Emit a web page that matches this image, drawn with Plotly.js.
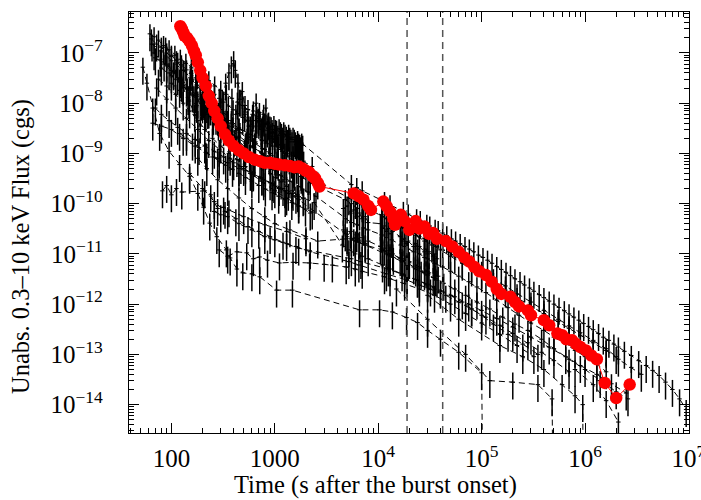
<!DOCTYPE html>
<html><head><meta charset="utf-8">
<script src="https://cdn.plot.ly/plotly-3.0.1.min.js"></script>
<style>html,body{margin:0;padding:0;background:#fff}#plot{width:701px;height:500px}</style>
</head><body><div id="plot"></div>
<script>
// ---- GRB under study (red) ----
const grbTime = [122,126,130,134,142,150,158,165,172,180,190,200,215,230,245,260,280,300,330,360,400,450,500,560,640,720,800,900,1000,1100,1250,1400,1550,1700,1850,2000,2150,2300,2450,2600,2700,
 5.8e3,6.5e3,7.2e3,8e3,8.5e3,1.12e4,1.2e4,1.3e4,1.4e4,1.45e4,1.65e4,1.8e4,2e4,2.3e4,2.5e4,2.8e4,3.1e4,3.4e4,3.7e4,4.5e4,5.2e4,6e4,6.8e4,7.6e4,8.5e4,9.5e4,1.1e5,1.25e5,1.4e5,1.55e5,1.9e5,2.1e5,2.3e5,2.8e5,3e5,4e5,4.5e5,5.4e5,6e5,6.6e5,7.5e5,8.2e5,9e5,1.02e6,1.15e6,1.3e6,1.55e6,2e6,2.7e6];
const grbFlux = [3.4e-7,3.0e-7,2.6e-7,2.2e-7,2.0e-7,1.7e-7,1.4e-7,1.1e-7,9e-8,6.5e-8,4.5e-8,3.2e-8,2.2e-8,1.4e-8,1e-8,7e-9,5e-9,3.5e-9,2.4e-9,1.8e-9,1.4e-9,1.15e-9,1e-9,8.5e-10,7.5e-10,7e-10,6.5e-10,6.5e-10,6.2e-10,6e-10,5.8e-10,5.6e-10,5.3e-10,5.5e-10,5e-10,4.5e-10,4.2e-10,3.6e-10,3.2e-10,2.6e-10,2.2e-10,
 1.6e-10,1.4e-10,1.2e-10,9e-11,7.5e-11,1.1e-10,9e-11,7e-11,5e-11,3.8e-11,6e-11,4.5e-11,3e-11,4.5e-11,3.2e-11,3.5e-11,2.5e-11,2.6e-11,2e-11,1.8e-11,1.4e-11,1.1e-11,8.5e-12,7e-12,5.5e-12,4.5e-12,3.8e-12,2.8e-12,2e-12,1.6e-12,1.4e-12,1.1e-12,9e-13,7.5e-13,6e-13,4.8e-13,3.8e-13,2.6e-13,2.4e-13,2e-13,1.9e-13,1.6e-13,1.4e-13,1.2e-13,9.5e-14,8e-14,2.7e-14,1.35e-14,2.5e-14];

// ---- comparison sample (black) ----
const lcA_t = [62,68,75,84,95,108,122,138,156,178,202,230,262,300,340,385,435,490,550,610,670,720,770,820,870,920,980,1040,1100,1160,1220,1290,1360,1430,1500,1580,1660,1740,1820,
 5.5e3,6.2e3,7.0e3,1.15e4,1.3e4,1.75e4,1.95e4,2.35e4,2.55e4,2.95e4,3.15e4,3.55e4,3.8e4,4.2e4,4.6e4,5.1e4,5.6e4,6.2e4,6.9e4,7.6e4,8.4e4,9.3e4,1.03e5,1.14e5,1.26e5,1.4e5,1.55e5,1.72e5,1.9e5,2.1e5,2.35e5,2.6e5,2.9e5,3.2e5,3.6e5,4e5,4.5e5,5e5,5.6e5,6.3e5,7e5,7.8e5,8.7e5,9.7e5,1.08e6,1.2e6,1.35e6,1.5e6,1.7e6,1.9e6,2.1e6,2.4e6,2.8e6,3.3e6,3.9e6,4.5e6,5.2e6,6e6,7e6,8.2e6,9.5e6];
const lcA_f = [2.4e-7,2.1e-7,1.8e-7,1.4e-7,1.15e-7,9e-8,7.5e-8,6.2e-8,5.2e-8,4.2e-8,3.4e-8,2.8e-8,2.2e-8,1.8e-8,1.5e-8,1.25e-8,1.05e-8,9e-9,7.5e-9,6e-9,5.5e-9,4.4e-9,4.8e-9,3.8e-9,4.2e-9,3.4e-9,3.6e-9,2.9e-9,3.1e-9,2.5e-9,2.7e-9,2.2e-9,2.4e-9,1.9e-9,2.1e-9,1.7e-9,1.8e-9,1.5e-9,1.6e-9,
 2.4e-10,2.1e-10,1.8e-10,1.1e-10,9.5e-11,7e-11,6.2e-11,5e-11,4.6e-11,3.9e-11,3.6e-11,3.1e-11,2.9e-11,2.6e-11,2.3e-11,2e-11,1.8e-11,1.6e-11,1.4e-11,1.25e-11,1.1e-11,9.5e-12,8.5e-12,7.5e-12,6.5e-12,5.6e-12,4.9e-12,4.3e-12,3.7e-12,3.2e-12,2.8e-12,2.4e-12,2.1e-12,1.8e-12,1.55e-12,1.35e-12,1.15e-12,1e-12,8.6e-13,7.4e-13,6.4e-13,5.5e-13,4.8e-13,4.1e-13,3.6e-13,3.1e-13,2.6e-13,2.2e-13,1.9e-13,1.6e-13,1.4e-13,1.15e-13,9.5e-14,7.5e-14,6e-14,4.8e-14,3.8e-14,2.8e-14,2e-14,1.3e-14,8e-15];

const lcB_t = [115,130,148,168,190,215,240,262,285,310,335,360,380,400,415,440,470,510,560,610,660,710,760,820,880,940,1000,1070,1150,1250,1380,1520,1680];
const lcB_f = [3.2e-8,2e-8,1.1e-8,6e-9,3.5e-9,6e-9,1.1e-8,8e-9,6.5e-9,1.2e-8,2.5e-8,4e-8,5.5e-8,7e-8,4.5e-8,2.5e-8,1.2e-8,6e-9,3.5e-9,2.8e-9,4.5e-9,6.5e-9,3.5e-9,1.6e-9,2.2e-9,3e-9,2.2e-9,1.5e-9,1.2e-9,1e-9,8.5e-10,7e-10,5.5e-10];

const lcC_t = [88,100,115,132,152,175,200,230,265,300,340,380,420,455,485,515,545,580,620,660,700,740,780,820,860,900,950,1000,1080,1180,1300,1450,1620,1800,2000,
 5.2e3,6e3,7e3,1.1e4,1.25e4,1.7e4,1.9e4,2.3e4,2.8e4,3.3e4,4e4,5e4,6.5e4,8e4,1e5,1.3e5,1.7e5,2.2e5,3e5,4e5,5.5e5,7e5,9e5,1.2e6,1.6e6,2.1e6,2.8e6,3.5e6];
const lcC_f = [1.3e-7,9e-8,6.5e-8,4.5e-8,3.2e-8,2.3e-8,1.6e-8,1.1e-8,8e-9,6e-9,4.8e-9,4e-9,6e-9,1.2e-8,1.7e-8,9e-9,4.5e-9,3.5e-9,7e-9,1e-8,5e-9,3e-9,6e-9,8e-9,4e-9,2.5e-9,2e-9,1.7e-9,1.4e-9,1.1e-9,9e-10,7e-10,5.5e-10,4.5e-10,3.8e-10,
 1.3e-10,1.1e-10,9.5e-11,5.5e-11,4.8e-11,3.3e-11,2.9e-11,2.3e-11,1.8e-11,1.5e-11,1.2e-11,9e-12,6.5e-12,5e-12,3.8e-12,2.7e-12,1.9e-12,1.35e-12,9e-13,6.5e-13,4.5e-13,3.3e-13,2.4e-13,1.7e-13,1.2e-13,8e-14,5.5e-14,4e-14];

const lcE1_t = [65,80,100,130,160,200,250,300,380,450,550,650,800,1000,1200,1500,1800,2200,4.8e3,5.5e3,6.3e3,7.2e3,8e3,1.08e4,1.2e4,1.35e4,1.65e4,1.8e4,1.95e4,2.2e4,2.5e4,2.8e4,3e4,3.4e4,3.7e4,4.2e4,4.8e4,5.5e4,6.5e4,8e4,1e5,1.3e5,1.7e5,2.2e5,3e5,4e5,5.5e5,7e5,9e5,1.2e6,1.6e6,2e6];
const lcE1_f = [1.5e-7,1.1e-7,7e-8,4.5e-8,3e-8,1.8e-8,1.1e-8,7.5e-9,4.5e-9,3.2e-9,2.2e-9,1.7e-9,1.2e-9,8e-10,6e-10,4.5e-10,3.5e-10,2.6e-10,1.2e-10,1e-10,8e-11,9e-11,7e-11,6e-11,5e-11,4.5e-11,3.5e-11,3.2e-11,2.8e-11,2.6e-11,2.2e-11,2e-11,1.8e-11,1.6e-11,1.4e-11,1.2e-11,1.1e-11,9e-12,7.5e-12,6e-12,4.5e-12,3.2e-12,2.3e-12,1.6e-12,1.1e-12,7.5e-13,5e-13,3.7e-13,2.7e-13,1.9e-13,1.3e-13,9e-14];

const lcE2_t = [70,85,100,120,150,190,230,280,340,420,520,640,780,950,1150,1400,1700,2100,2500,4.8e3,5.5e3,6.3e3,7.2e3,8e3,1.08e4,1.2e4,1.35e4,1.65e4,1.8e4,1.95e4,2.2e4,2.5e4,2.8e4,3e4,3.5e4,4.2e4,5e4,6e4,7.5e4,9e4,1.1e5,1.4e5,1.8e5,2.3e5,3e5,4e5,5e5,6.5e5,8e5,1e6,1.3e6,1.6e6];
const lcE2_f = [8e-8,6e-8,4.5e-8,3e-8,2e-8,1.2e-8,8e-9,5e-9,3.2e-9,2e-9,1.3e-9,9e-10,6.5e-10,4.8e-10,3.6e-10,2.8e-10,2.2e-10,1.7e-10,1.4e-10,5e-11,4.2e-11,3.8e-11,3.3e-11,3e-11,2.4e-11,2.1e-11,1.9e-11,1.5e-11,1.4e-11,1.25e-11,1.1e-11,1e-11,8.5e-12,8e-12,6.5e-12,5.5e-12,4.5e-12,3.6e-12,2.8e-12,2.2e-12,1.7e-12,1.2e-12,8.5e-13,6e-13,4.2e-13,3e-13,2.2e-13,1.6e-13,1.2e-13,9e-14,6.5e-14,4.5e-14];

const lcE3_t = [75,90,110,130,150,180,210,250,300,360,430,520,620,750,900,1100,1350,1700,4.8e3,5.5e3,6.5e3,7.5e3,1.1e4,1.25e4,1.4e4,1.7e4,1.9e4,2.3e4,2.6e4,3e4,3.6e4,4.3e4,5.5e4,7e4,9e4,1.2e5,1.6e5,2.1e5,2.8e5,3.8e5,5e5,7e5,1e6,1.4e6,2e6,2.6e6];
const lcE3_f = [3e-8,2.2e-8,1.5e-8,1e-8,7e-9,4.5e-9,3e-9,2e-9,1.4e-9,1e-9,7.5e-10,5.5e-10,4.2e-10,3.3e-10,2.6e-10,2e-10,1.6e-10,1.2e-10,2.5e-11,2e-11,1.7e-11,1.5e-11,1.1e-11,9.5e-12,8.5e-12,7e-12,6e-12,5e-12,4.5e-12,3.8e-12,3.2e-12,2.6e-12,2e-12,1.5e-12,1.1e-12,8e-13,5.5e-13,4e-13,3e-13,2e-13,1.3e-13,8e-14,5e-14,3e-14,1.8e-14,1.3e-14];

const lcE5_t = [66,80,100,130,170,220,280,350,450,580,750,950,1200,1500,1900,2400,4.5e3,5.2e3,6e3,7e3,8e3,1.1e4,1.3e4,1.7e4,1.9e4,2.4e4,3e4,4e4,5e4,6.5e4,8e4,1e5,1.3e5,1.8e5,2.5e5,3.5e5];
const lcE5_f = [4e-9,3.5e-9,3e-9,2e-9,1.4e-9,1e-9,8e-10,6.5e-10,5e-10,4e-10,3.2e-10,2.5e-10,2e-10,1.6e-10,1.3e-10,1.05e-10,1.5e-11,1.2e-11,1e-11,9e-12,8e-12,6e-12,5e-12,4e-12,3.5e-12,3e-12,2.4e-12,1.8e-12,1.5e-12,1.1e-12,8e-13,6e-13,4e-13,2.5e-13,1.6e-13,1e-13];

const lcE6_t = [72,90,110,140,180,230,290,370,470,600,780,1000,1300,1700,2200];
const lcE6_f = [2e-8,1.2e-8,8e-9,5e-9,3e-9,1.8e-9,1.2e-9,8e-10,5.5e-10,3.8e-10,2.6e-10,1.8e-10,1.3e-10,9e-11,6.5e-11];

const lcE7_t = [80,100,130,170,220,280,350,450,580,750,950,1200,1500,1900,2300];
const lcE7_f = [5e-8,3.5e-8,2.2e-8,1.4e-8,9e-9,6e-9,4.5e-9,3.2e-9,2.4e-9,1.8e-9,1.4e-9,1.1e-9,9e-10,7e-10,5.5e-10];

const lcE8_t = [70,80,95,115,140,170,210,260,320,400,500,620,780,980,1250,1600];
const lcE8_f = [8e-9,6e-9,4.5e-9,3.3e-9,2.5e-9,1.9e-9,1.4e-9,1.1e-9,8.5e-10,6.5e-10,5e-10,3.9e-10,3e-10,2.3e-10,1.8e-10,1.4e-10];

const lcG1_t = [90,105,125,150,175,205,240,280,330,390,460,540,640,760,900,1050,1250,1500,1800,2100];
const lcG1_f = [6e-8,4.2e-8,3e-8,2e-8,1.5e-8,1.1e-8,8e-9,6e-9,4.5e-9,3.4e-9,2.6e-9,2e-9,1.6e-9,1.25e-9,1e-9,8e-10,6.5e-10,5e-10,4e-10,3.3e-10];
const lcG2_t = [100,120,145,175,210,250,300,360,430,520,620,740,880,1050,1250,1500,1800,2200,2600];
const lcG2_f = [2.5e-8,1.8e-8,1.3e-8,9e-9,6.5e-9,4.8e-9,3.6e-9,2.7e-9,2.1e-9,1.6e-9,1.3e-9,1.05e-9,8.5e-10,7e-10,5.8e-10,4.8e-10,4e-10,3.3e-10,2.7e-10];
const lcG3_t = [68,78,90,105,122,142,165,195,230,270,320,380,450,530,630,750,900,1080,1300,1550,1850];
const lcG3_f = [1e-7,7.5e-8,5.5e-8,4e-8,2.8e-8,2e-8,1.4e-8,1e-8,7e-9,5.2e-9,3.8e-9,2.9e-9,2.2e-9,1.7e-9,1.3e-9,1e-9,8e-10,6.3e-10,5e-10,4e-10,3.2e-10];

const lcH1_t = [650,690,740,790,845,895,950,1010,1070,1130,1190,1255,1325,1395,1465,1540,1620,1700,1780,1860];
const lcH1_f = [3.5e-9,4.5e-9,3.2e-9,4e-9,2.9e-9,3.5e-9,2.6e-9,3e-9,2.3e-9,2.7e-9,2.1e-9,2.4e-9,1.9e-9,2.1e-9,1.7e-9,1.9e-9,1.5e-9,1.6e-9,1.35e-9,1.45e-9];
const lcH2_t = [95,110,125,140,160,180,200,225,255,285,320,360,405,455,510,570,640,720,810,910,1020,1150,1300,1470,1660,1880];
const lcH2_f = [4e-8,3e-8,2.4e-8,1.9e-8,1.45e-8,1.1e-8,8.8e-9,6.8e-9,5.2e-9,4e-9,3.1e-9,2.4e-9,1.9e-9,1.5e-9,1.2e-9,9.5e-10,7.5e-10,6e-10,4.9e-10,4e-10,3.3e-10,2.7e-10,2.2e-10,1.8e-10,1.5e-10,1.25e-10];
const lcH3_t = [120,140,160,185,215,250,290,335,390,450,520,600,700,810,940,1090,1260,1460,1700,1980,2300];
const lcH3_f = [2.5e-9,2e-9,1.6e-9,1.3e-9,1.05e-9,8.5e-10,7e-10,5.8e-10,4.8e-10,4e-10,3.3e-10,2.8e-10,2.3e-10,1.95e-10,1.65e-10,1.4e-10,1.2e-10,1.05e-10,9e-11,7.8e-11,6.8e-11];
const lcH4_t = [64,72,80,90,100,112,125,140,155,172,190,210,235,260,290,320,355,395,440,490,545,600];
const lcH4_f = [1.9e-7,1.5e-7,1.3e-7,1e-7,8.5e-8,7e-8,5.8e-8,4.6e-8,3.9e-8,3.2e-8,2.7e-8,2.2e-8,1.8e-8,1.5e-8,1.25e-8,1.05e-8,8.8e-9,7.4e-9,6.2e-9,5.2e-9,4.4e-9,3.8e-9];

// curves sampled in spacecraft-orbit windows
const lcO1_t = [4.6e3,5e3,5.4e3,5.8e3,6.2e3,6.6e3,7e3,7.5e3,8e3,1.05e4,1.1e4,1.15e4,1.2e4,1.25e4,1.3e4,1.38e4,1.63e4,1.7e4,1.78e4,1.86e4,1.95e4,2.2e4,2.3e4,2.4e4,2.5e4,2.8e4,2.9e4,3e4,3.1e4,3.4e4,3.55e4,3.7e4];
const lcO1_f = [8e-11,9e-11,6.5e-11,7.5e-11,5.5e-11,6.5e-11,5e-11,5.5e-11,4.2e-11,4e-11,3.2e-11,3.6e-11,2.8e-11,3.2e-11,2.5e-11,2.8e-11,2.2e-11,1.8e-11,2e-11,1.6e-11,1.8e-11,1.4e-11,1.6e-11,1.25e-11,1.4e-11,1.1e-11,1.25e-11,1e-11,1.1e-11,9e-12,1e-11,8e-12];
const lcO2_t = [4.6e3,5e3,5.4e3,5.8e3,6.2e3,6.6e3,7e3,7.5e3,8e3,1.05e4,1.1e4,1.15e4,1.2e4,1.25e4,1.3e4,1.38e4,1.63e4,1.7e4,1.78e4,1.86e4,1.95e4,2.2e4,2.3e4,2.4e4,2.5e4,2.8e4,2.9e4,3e4,3.1e4,3.4e4,3.55e4,3.7e4];
const lcO2_f = [3e-11,2.2e-11,2.8e-11,2e-11,2.4e-11,1.8e-11,2.1e-11,1.6e-11,1.8e-11,1.4e-11,1.2e-11,1.3e-11,1e-11,1.15e-11,9e-12,1e-11,8e-12,7e-12,7.5e-12,6e-12,6.5e-12,5.5e-12,6e-12,4.8e-12,5.2e-12,4.2e-12,4.6e-12,3.8e-12,4.2e-12,3.4e-12,3.7e-12,3e-12];

const lcF1_t = [150,200,260,330,420,550,700,900,1200,1600,2200,5200,6500,1.2e4,1.9e4,2.5e4,3.2e4,4.5e4,6e4,8e4,1.1e5,1.5e5,2e5,2.8e5,3.8e5,5e5,7e5];
const lcF1_f = [4e-10,2e-10,1.1e-10,7e-11,5e-11,3.5e-11,2.8e-11,2.2e-11,1.7e-11,1.4e-11,1.1e-11,7e-12,6e-12,4e-12,3e-12,2.4e-12,2e-12,1.5e-12,1.1e-12,8e-13,5.5e-13,3.8e-13,2.6e-13,1.7e-13,1.1e-13,7.5e-14,4.5e-14];

const lcF2_t = [260,300,350,450,600,800,1000,1300,1700,5500,6800,1.25e4,1.8e4,2.4e4,3e4,4e4,5.5e4,7.5e4,1e5,1.4e5,2e5,3e5,4.5e5,6.5e5,9e5,1.3e6,1.8e6,2.5e6];
const lcF2_f = [7e-11,6e-11,5.5e-11,4e-11,3e-11,2.2e-11,1.9e-11,1.6e-11,1.3e-11,8e-12,7e-12,5e-12,3.8e-12,3e-12,2.5e-12,1.9e-12,1.4e-12,1e-12,7.5e-13,5.2e-13,3.5e-13,2.2e-13,1.4e-13,9e-14,6e-14,4e-14,2.6e-14,1.7e-14];

const lcF3_t = [180,220,280,350,450,600,800,1000,1400,2000,2600,5000,6000,7500,1.1e4,1.3e4,1.7e4,2e4,2.5e4,3e4,3.8e4];
const lcF3_f = [8e-10,5e-10,3e-10,2e-10,1.3e-10,8e-11,5.5e-11,4e-11,3e-11,2.2e-11,1.8e-11,2e-11,1.8e-11,1.5e-11,1.2e-11,1e-11,8e-12,7e-12,5.5e-12,4.5e-12,3.6e-12];

const lcS_t = [82,90,100,112,126,210,240,280,320,360,500,800,1300,2000];
const lcS_f = [1.8e-10,2.3e-10,1.5e-10,2e-10,1.7e-10,1.8e-10,1.5e-10,8e-11,8.5e-11,7.5e-11,5.5e-11,3.8e-11,2.8e-11,2e-11];

const lcL_t = [53,58,66,77,95,120,150,180,205,235,275,340,370,430,490,600,715,1040,1480,6600,1.03e4,1.37e4,1.88e4,2.4e4,3e4,4e4,6e4,1e5,1.03e5];
const lcL_f = [5.2e-8,2.5e-8,8e-9,2.5e-9,1.1e-9,6e-10,3.5e-10,1.6e-10,8.5e-11,4.1e-11,2.2e-11,1.2e-11,8.3e-12,5e-12,4.2e-12,4e-12,3.5e-12,1.9e-12,1.9e-12,7.7e-13,7.7e-13,7e-13,5.4e-13,4.3e-13,3e-13,2e-13,1.1e-13,4.3e-14,1e-16];

const lcP_t = [290,350,430,535,620,713,850,1110,1500,2170,3000,3600,4900,6000,7000,1.15e4,1.3e4,1.8e4,2.5e4,3.5e4,5e4,7e4,1e5,1.5e5,2.2e5,3.2e5];
const lcP_f = [1.2e-11,9e-12,1.1e-11,1.05e-11,8e-12,8.7e-12,7.5e-12,6.6e-12,6.8e-12,6.6e-12,6.2e-12,6e-12,5.5e-12,5e-12,4.5e-12,3.5e-12,3.2e-12,2.6e-12,2e-12,1.5e-12,1e-12,6.5e-13,4.2e-13,2.5e-13,1.5e-13,9e-14];

const lcQ_t = [1.5e4,3e4,7e4,1.2e5,2e5,3.5e5,4.8e5,4.9e5];
const lcQ_f = [2e-12,5e-13,1e-13,3e-14,2.8e-14,2.5e-14,1.3e-14,1e-16];
const lcR_t = [3e4,6e4,1.5e5,2.5e5,4e5,6e5,8e5,9.5e5,9.6e5];
const lcR_f = [1.5e-12,5e-13,1.5e-13,9e-14,5e-14,2.5e-14,1.5e-14,1e-14,1e-16];
const lcT_t = [8e5,1.2e6,1.6e6,2.1e6];
const lcT_f = [5e-14,2.5e-14,1.2e-14,4.5e-15];

// vertical reference times (s)
const refTimes = [1.9e4, 4.2e4];

// axes
const xRangeLog = [1.59, 7.005];
const yRangeLog = [-14.565, -6.185];
const xTickVals = [100, 1000, 1e4, 1e5, 1e6, 1e7];
const xTickText = ['100','1000','10<sup>4</sup>','10<sup>5</sup>','10<sup>6</sup>','10<sup>7</sup>'];
const yTickVals = [1e-14,1e-13,1e-12,1e-11,1e-10,1e-9,1e-8,1e-7];
const yTickText = ['10<sup>\u221214</sup>','10<sup>\u221213</sup>','10<sup>\u221212</sup>','10<sup>\u221211</sup>','10<sup>\u221210</sup>','10<sup>\u22129</sup>','10<sup>\u22128</sup>','10<sup>\u22127</sup>'];

const xMinor = [], yMinor = [];
for (let d = 1; d <= 6; d++) for (let k = 2; k <= 9; k++) xMinor.push(k * Math.pow(10, d));
for (let d = -15; d <= -7; d++) for (let k = 2; k <= 9; k++) yMinor.push(k * Math.pow(10, d));

const blackCurves = [
  [lcL_t,lcL_f],[lcP_t,lcP_f],[lcQ_t,lcQ_f],[lcR_t,lcR_f],[lcT_t,lcT_f],[lcS_t,lcS_f],
  [lcF1_t,lcF1_f],[lcF2_t,lcF2_f],[lcF3_t,lcF3_f],[lcO1_t,lcO1_f],[lcO2_t,lcO2_f],
  [lcE8_t,lcE8_f],[lcE7_t,lcE7_f],[lcE6_t,lcE6_f],
  [lcG1_t,lcG1_f],[lcG2_t,lcG2_f],[lcG3_t,lcG3_f],
  [lcH1_t,lcH1_f],[lcH2_t,lcH2_f],[lcH3_t,lcH3_f],[lcH4_t,lcH4_f],
  [lcE5_t,lcE5_f],[lcE3_t,lcE3_f],[lcE2_t,lcE2_f],[lcE1_t,lcE1_f],[lcC_t,lcC_f],[lcB_t,lcB_f],[lcA_t,lcA_f]
];

const traces = blackCurves.map(([t, f]) => ({
  x: t, y: f, type: 'scatter', mode: 'lines',
  line: {color: 'black', width: 1, dash: '6px,4px'},
  error_y: {type: 'percent', value: 55, color: 'black', thickness: 1.5, width: 0},
  error_x: {type: 'percent', value: 5, color: 'black', thickness: 1, width: 0},
  hoverinfo: 'skip'
}));

// vertical dashed reference lines spanning the full y range
const yLo = Math.pow(10, yRangeLog[0]), yHi = Math.pow(10, yRangeLog[1]);
refTimes.forEach(t => traces.push({
  x: [t, t], y: [yLo, yHi], type: 'scatter', mode: 'lines',
  line: {color: '#555', width: 1.5, dash: '7px,5px'}, hoverinfo: 'skip'
}));

traces.push({
  x: grbTime, y: grbFlux, type: 'scatter', mode: 'lines+markers',
  line: {color: 'red', width: 1},
  marker: {color: 'red', size: 12.5, symbol: 'circle'},
  error_y: {type: 'percent', value: 20, color: 'red', thickness: 1.2, width: 0},
  hoverinfo: 'skip'
});

const axisCommon = {
  type: 'log', tickmode: 'array', ticks: 'inside', ticklen: 10, tickwidth: 1, tickcolor: 'black',
  showline: true, linecolor: 'black', linewidth: 1.2, mirror: 'allticks',
  showgrid: false, zeroline: false, ticklabeloverflow: 'allow',
  tickfont: {family: 'Liberation Serif, serif', size: 25, color: 'black'}
};

const layout = {
  width: 701, height: 500,
  margin: {l: 129, r: 12, t: 12, b: 67},
  paper_bgcolor: 'white', plot_bgcolor: 'white',
  showlegend: false,
  font: {family: 'Liberation Serif, serif', size: 22, color: 'black'},
  xaxis: Object.assign({}, axisCommon, {
    range: xRangeLog, tickvals: xTickVals, ticktext: xTickText, ticklabelstandoff: 3,
    minor: {tickmode: 'array', tickvals: xMinor, ticks: 'inside', ticklen: 5, tickwidth: 1, tickcolor: 'black', showgrid: false}
  }),
  yaxis: Object.assign({}, axisCommon, {
    range: yRangeLog, tickvals: yTickVals, ticktext: yTickText, ticklabelstandoff: 20,
    minor: {tickmode: 'array', tickvals: yMinor, ticks: 'inside', ticklen: 5, tickwidth: 1, tickcolor: 'black', showgrid: false}
  }),
  annotations: [
    {text: 'Time (s after the burst onset)', xref: 'paper', yref: 'paper', x: 0.441, y: -0.124,
     xanchor: 'center', yanchor: 'middle', showarrow: false, font: {size: 24.5}},
    {text: 'Unabs. 0.3\u201310 keV Flux (cgs)', xref: 'paper', yref: 'paper', x: -0.193, y: 0.444,
     xanchor: 'center', yanchor: 'middle', textangle: -90, showarrow: false, font: {size: 24.5}}
  ]
};

Plotly.newPlot('plot', traces, layout, {staticPlot: true, displayModeBar: false});
</script>
</body></html>
